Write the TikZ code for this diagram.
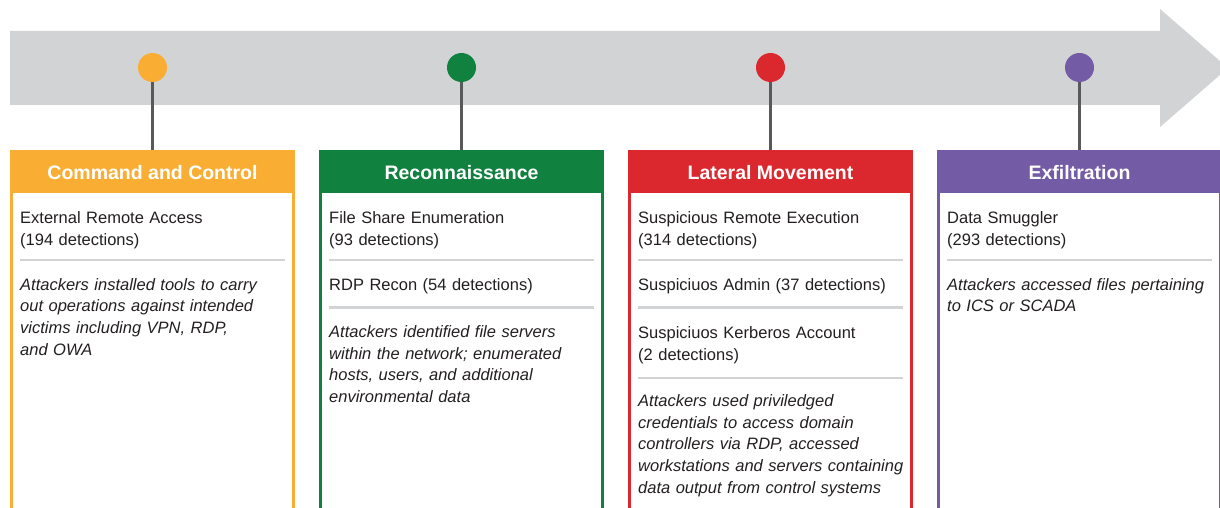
\documentclass[tikz,border=0pt]{standalone}
\usepackage{fontspec}
\setmainfont{Liberation Sans}
\usepackage{xcolor}
\usepackage{tikz}

\definecolor{arrowgrey}{HTML}{D1D3D4}
\definecolor{rulegrey}{HTML}{D1D3D4}
\definecolor{stemgrey}{HTML}{58595B}
\definecolor{textgrey}{HTML}{231F20}
\definecolor{ccorange}{HTML}{F9AE33}
\definecolor{recongreen}{HTML}{10813F}
\definecolor{latred}{HTML}{DB272E}
\definecolor{exfilpurple}{HTML}{745BA5}

\begin{document}
\begin{tikzpicture}[x=1pt, y=-1pt,
	phasedot/.style={circle, inner sep=0pt, minimum size=29pt},
	stem/.style={stemgrey, line width=2.4pt},
	frame/.style={line width=2.6pt},
	phasehead/.style={rectangle, inner sep=0pt, minimum width=285pt, minimum height=43pt,
		text height=15.5pt, text depth=0pt, text=white, font=\fontsize{19.5}{22}\selectfont\bfseries},
	entry/.style={anchor=base west, inner sep=0pt, text width=280pt, align=left,
		text=textgrey, font=\fontsize{16.5}{22}\selectfont},
	remark/.style={entry, font=\fontsize{16.5}{21.7}\selectfont\itshape},
	divider/.style={rulegrey, line width=2.2pt}]
	\useasboundingbox (0,0) rectangle (1220,508);
	\clip (0,0) rectangle (1220,508);
	
	% timeline arrow
	\fill[arrowgrey] (10,31) -- (1160,31) -- (1160,9) -- (1228,68) -- (1160,127) -- (1160,105) -- (10,105) -- cycle;
	
	% phases
	\foreach \x/\col/\n/\title in {10/ccorange/cc/Command and Control, 319/recongreen/recon/Reconnaissance,
		628/latred/lat/Lateral Movement, 937/exfilpurple/exfil/Exfiltration}{
		\draw[frame, \col] (\x+1.3,151) rectangle (\x+283.7,540);
		\node[phasehead, fill=\col] (head\n) at (\x+142.5,171.5) {\title};
		\node[phasedot, fill=\col] (dot\n) at (\x+142.5,67.5) {};
		\draw[stem] (dot\n) -- (head\n);
		\draw[divider] (\x+10,260) -- (\x+275,260);
	}
	
	% Command and Control
	\node[entry] (cc1) at (20,223) {External Remote Access\\(194 detections)};
	\node[remark] (ccnote) at (20,290) {Attackers installed tools to carry\\out operations against intended\\victims including VPN, RDP,\\and OWA};
	
	% Reconnaissance
	\node[entry] (recon1) at (329,223) {File Share Enumeration\\(93 detections)};
	\node[entry] (recon2) at (329,290) {RDP Recon (54 detections)};
	\draw[divider] (329,307.5) -- (594,307.5);
	\node[remark] (reconnote) at (329,337.5) {Attackers identified file servers\\within the network; enumerated\\hosts, users, and additional\\environmental data};
	
	% Lateral Movement
	\node[entry] (lat1) at (638,223) {Suspicious Remote Execution\\(314 detections)};
	\node[entry] (lat2) at (638,290) {Suspiciuos Admin (37 detections)};
	\draw[divider] (638,307.5) -- (903,307.5);
	\node[entry] (lat3) at (638,338) {Suspiciuos Kerberos Account\\(2 detections)};
	\draw[divider] (638,378) -- (903,378);
	\node[remark] (latnote) at (638,406.5) {Attackers used priviledged\\credentials to access domain\\controllers via RDP, accessed\\workstations and servers containing\\data output from control systems};
	
	% Exfiltration
	\node[entry] (exfil1) at (947,223) {Data Smuggler\\(293 detections)};
	\node[remark] (exfilnote) at (947,290) {Attackers accessed files pertaining\\to ICS or SCADA};
\end{tikzpicture}
\end{document}
